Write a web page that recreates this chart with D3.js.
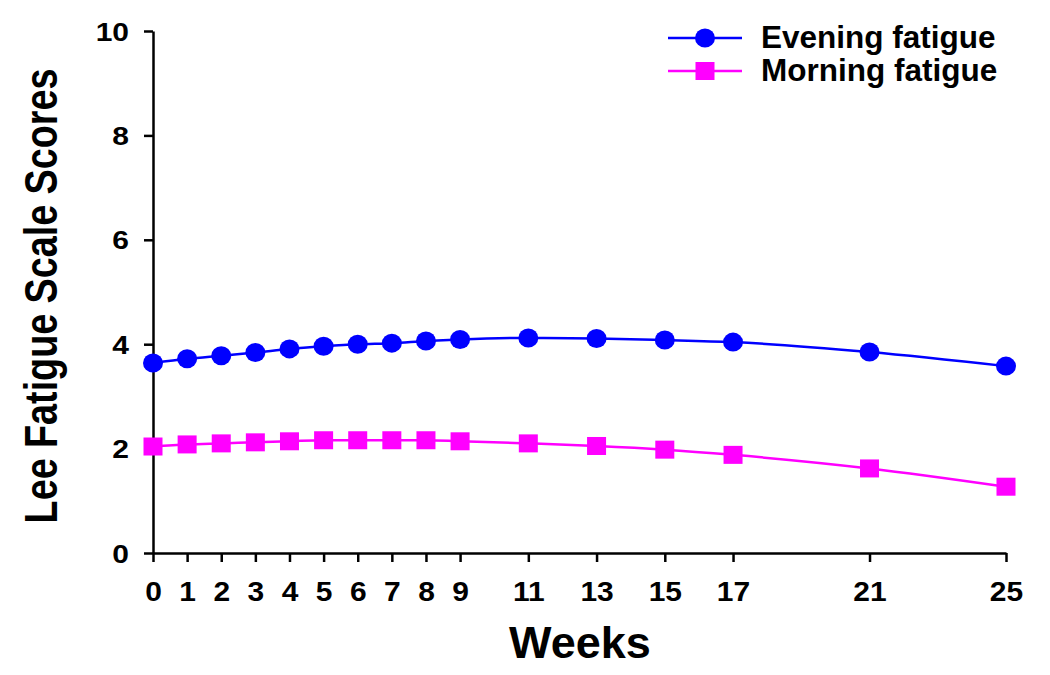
<!DOCTYPE html>
<html><head><meta charset="utf-8">
<script src="https://cdn.jsdelivr.net/npm/d3@7/dist/d3.min.js"></script>
<style>body{margin:0;background:#fff}svg{display:block}text{font-family:"Liberation Sans",Arial,sans-serif;font-weight:bold;fill:#000}</style>
</head><body><svg id="c" width="1050" height="675"></svg>
<script>
const weeks = [0,1,2,3,4,5,6,7,8,9,11,13,15,17,21,25];
const evening = [3.64,3.72,3.78,3.84,3.91,3.96,4.00,4.02,4.06,4.09,4.12,4.11,4.08,4.04,3.85,3.58];
const morning = [2.04,2.08,2.10,2.12,2.14,2.16,2.16,2.16,2.16,2.14,2.10,2.05,1.98,1.88,1.62,1.27];
const yTicks = [0,2,4,6,8,10];
const seriesNames = ["Evening fatigue","Morning fatigue"];
const colors = ["#0000FF","#FF00FF"];

const svg = d3.select("#c");
const x = d3.scaleLinear().domain([0,25]).range([153,1006]);
const y = d3.scaleLinear().domain([0,10]).range([553,31]);

const xAxis = svg.append("g").attr("transform","translate(0,553)")
  .call(d3.axisBottom(x).tickValues(weeks).tickFormat(d3.format("d")).tickSize(9).tickSizeOuter(0).tickPadding(20));
const yAxis = svg.append("g").attr("transform","translate(153,0)")
  .call(d3.axisLeft(y).tickValues(yTicks).tickSize(9).tickSizeOuter(0).tickPadding(15));
[xAxis,yAxis].forEach(g=>{
  g.select(".domain").attr("stroke","#000").attr("stroke-width",2.5);
  g.selectAll(".tick line").attr("stroke","#000").attr("stroke-width",2.5);
  g.selectAll(".tick text").style("font-size","30px").attr("fill","#000");
});
xAxis.selectAll(".tick text").attr("y",32.2).attr("dy","0.71em").attr("transform","scale(1,0.9)");
yAxis.selectAll(".tick text").attr("dy","0.35em").attr("transform","scale(1,0.87)");

svg.append("text").attr("x",580).attr("y",658).attr("text-anchor","middle")
  .style("font-size","45px").text("Weeks");
svg.append("text").attr("transform","translate(57,296) rotate(-90) scale(0.82,1)").attr("text-anchor","middle")
  .style("font-size","46px").text("Lee Fatigue Scale Scores");

const line = d3.line().x((d,i)=>x(weeks[i])).y(d=>y(d)).curve(d3.curveMonotoneX);
const data = [evening, morning];
data.forEach((s,k)=>{
  svg.append("path").datum(s).attr("d",line).attr("fill","none")
    .attr("stroke",colors[k]).attr("stroke-width",2.5);
});
svg.append("g").selectAll("ellipse").data(evening).join("ellipse")
  .attr("cx",(d,i)=>x(weeks[i])).attr("cy",d=>y(d)).attr("rx",10).attr("ry",9.5).attr("fill",colors[0]);
svg.append("g").selectAll("rect").data(morning).join("rect")
  .attr("x",(d,i)=>x(weeks[i])-9.5).attr("y",d=>y(d)-9).attr("width",19).attr("height",18).attr("fill",colors[1]);

// legend
const lg = svg.append("g");
const ly = [38,71];
seriesNames.forEach((n,k)=>{
  lg.append("line").attr("x1",668).attr("x2",742).attr("y1",ly[k]).attr("y2",ly[k])
    .attr("stroke",colors[k]).attr("stroke-width",2.5);
  if(k===0) lg.append("ellipse").attr("cx",705).attr("cy",ly[k]).attr("rx",10).attr("ry",9.5).attr("fill",colors[k]);
  else lg.append("rect").attr("x",695.5).attr("y",ly[k]-9).attr("width",19).attr("height",18).attr("fill",colors[k]);
  lg.append("text").attr("x",761).attr("y",ly[k]+10).style("font-size","31.5px").text(n);
});
</script></body></html>
